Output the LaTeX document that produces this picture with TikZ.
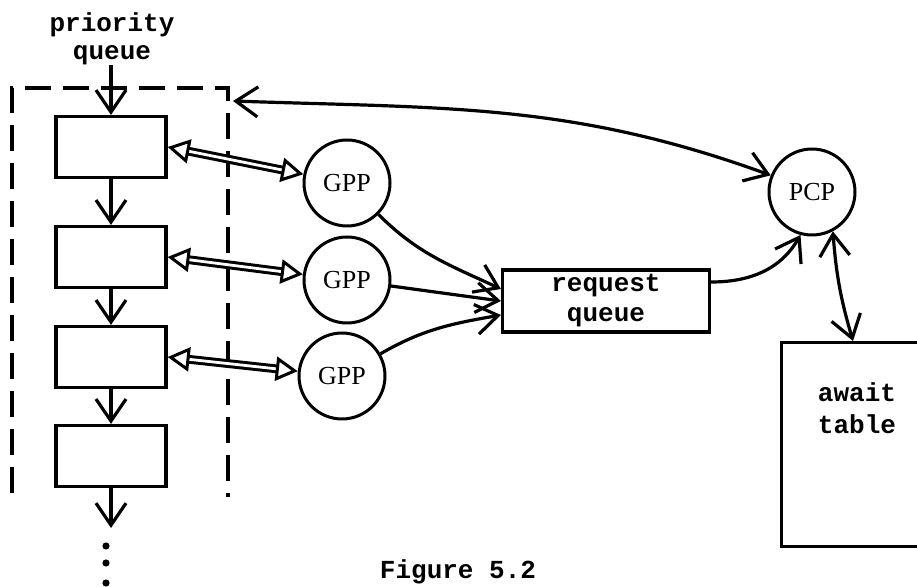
\documentclass[tikz,border=0pt]{standalone}
\usepackage{fontspec}
\setmainfont{Liberation Serif}
\setmonofont{Liberation Mono}
\usetikzlibrary{arrows.meta}
\tikzset{barb/.tip={Straight Barb[length=11pt,width=15pt]},
  tri/.tip={Triangle[open,length=11pt,width=12pt,line width=1.5pt]}}

\begin{document}
\begin{tikzpicture}[x=0.5pt,y=-0.5pt,
  qbox/.style={rectangle,draw=black,line width=1.6pt,minimum width=55pt,minimum height=30.5pt,inner sep=0pt},
  proc/.style={circle,draw=black,line width=1.5pt,minimum size=43pt,inner sep=0pt,font=\fontsize{13}{14}\selectfont},
  lbl/.style={align=center,inner sep=0pt,font=\ttfamily\bfseries\fontsize{13}{15}\selectfont},
  arr/.style={line width=1.6pt,-barb},
  arrs/.style={line width=1.6pt,barb-barb},
  dbl/.style={draw=black,double=white,line width=1.5pt,double distance=1.4pt,tri-tri},
  frame/.style={line width=2pt,dash pattern=on 13pt off 6pt}]
\useasboundingbox (0,0) rectangle (917,587);
\clip (0,0) rectangle (917,587);
% \draw[help lines] (0,0) grid[step=50] (917,587);
\node (pq) [lbl,font=\ttfamily\bfseries\fontsize{13}{14}\selectfont] at (112,39) {priority\\queue};
\node (b1) [qbox] at (111,147) {};
\node (b2) [qbox] at (111,257) {};
\node (b3) [qbox] at (111,357) {};
\node (b4) [qbox] at (111,456) {};
\coordinate (in) at (111,65);
\coordinate (more) at (111,528);
\coordinate (corner) at (233,101);
\draw[frame] (12,493) |- (228,88) -- (228,497);
\fill (106,546) circle (1.8pt) (106,563) circle (1.8pt) (106,583) circle (1.8pt);
%
\node (g1) [proc] at (347,183) {GPP};
\node (g2) [proc] at (347,280) {GPP};
\node (g3) [proc] at (342,376) {GPP};
\node (rq) [qbox,lbl,minimum width=103.5pt,minimum height=31pt] at (606,301) {request\\queue};
\node (pcp) [proc] at (812,192) {PCP};
\node (at) [qbox,minimum width=85pt,minimum height=102pt,anchor=north west] at (780,341) {};
\node (attxt) [lbl,font=\ttfamily\bfseries\fontsize{13}{16}\selectfont] at (857,408) {await\\table};
\node (fig) [lbl] at (458,572) {Figure 5.2};
%
\path[arr] (in) edge (b1) (b1) edge (b2) (b2) edge (b3) (b3) edge (b4) (b4) edge (more);
\draw[dbl] (b1.east) -- (g1);
\draw[dbl] (b2.east) -- (g2);
\draw[dbl] (b3.east) -- (g3);
\path[arr] (g1) edge[out=-45,in=155] ([yshift=6pt]rq.west);
\path[arr] (g2) edge (rq.west);
\path[arr] (g3) edge[out=30,in=190] ([yshift=-7pt]rq.west);
\path[arr] ([yshift=9.5pt]rq.east) edge[out=0,in=-120] (pcp.255);
\path[arrs] (pcp.-62) edge[bend right=6] ([xshift=36.5pt]at.north west);
\path[arrs] (corner) edge[out=-2,in=160] (pcp.158);
\end{tikzpicture}
\end{document}
